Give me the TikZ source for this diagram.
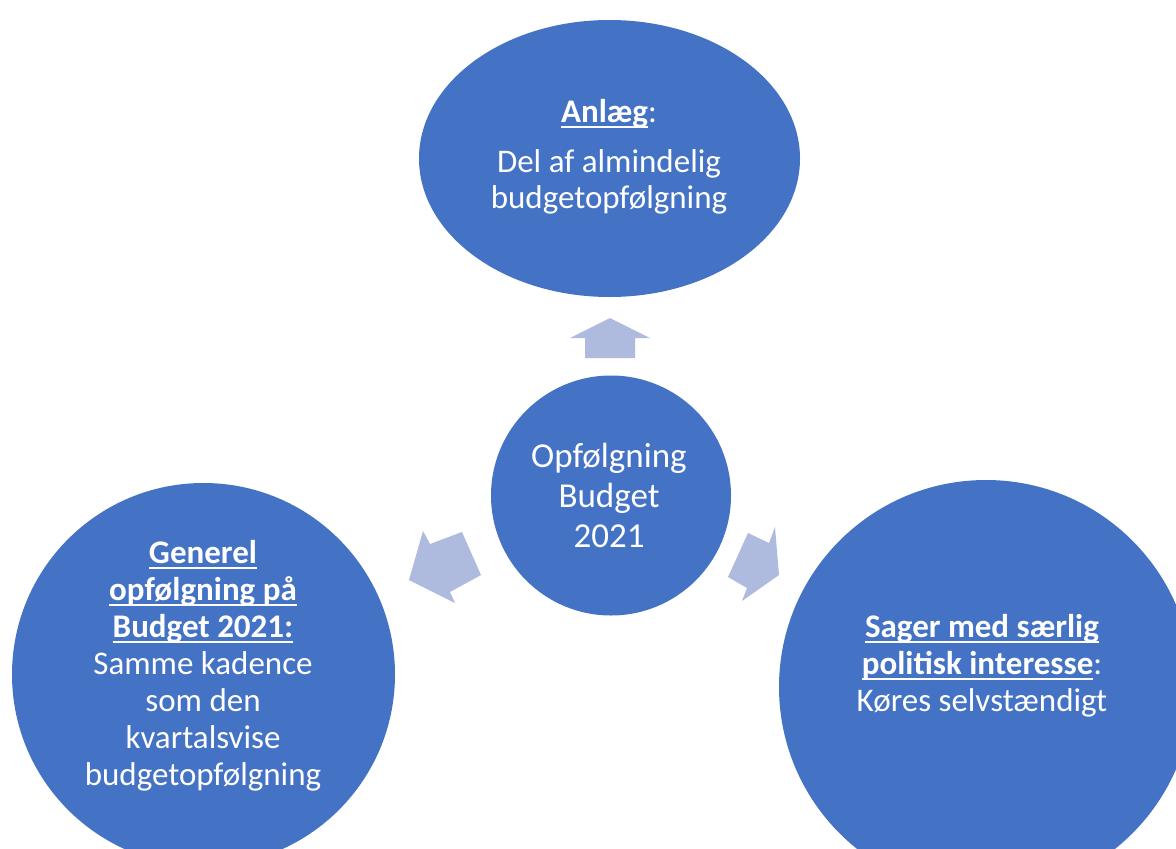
\documentclass[tikz,border=0pt]{standalone}
\usepackage{fontspec}
\setmainfont{Carlito}
\usetikzlibrary{shapes.geometric}
\definecolor{nodeblue}{HTML}{4472C4}
\definecolor{arrowblue}{HTML}{AFBADF}
\newcommand\ulin[1]{\setbox0\hbox{#1}\rlap{\rule[-5.5pt]{\wd0}{1.8pt}}\box0}
\newcommand\txtlines[2]{\vtop{\baselineskip=#1\lineskiplimit=-100pt\lineskip=0pt\halign{\hfil##\hfil\cr#2\crcr}}}
\tikzset{
  bubble/.style={fill=nodeblue, draw=none, inner sep=0pt},
  txt/.style={text=white, inner sep=0pt, anchor=base},
  blockarrow/.style={fill=arrowblue, draw=none}
}
\begin{document}
\begin{tikzpicture}[x=1pt,y=-1pt]
\useasboundingbox (0,0) rectangle (1176,849);
% shapes
\node[bubble, ellipse, minimum width=381pt, minimum height=277pt] (top) at (609.5,158.5) {};
\node[bubble, circle, minimum size=240pt] (center) at (611,495.5) {};
\node[bubble, circle, minimum size=383pt] (left) at (203.5,674.5) {};
\node[bubble, circle, minimum size=414pt] (right) at (986,687) {};
% block arrows
\fill[blockarrow] (610,318) -- (650,338) -- (635,338) -- (635,358) -- (585,358) -- (585,338) -- (570,338) -- cycle;
\fill[blockarrow] (409,580) -- (455,603) -- (450,592) -- (481,575) -- (462,532) -- (430,544) -- (423,531) -- cycle;
\fill[blockarrow] (779,575) -- (742,601) -- (747,588) -- (728,577) -- (748,533) -- (769,543) -- (775,527) -- cycle;
% texts
\node[txt, font=\fontsize{33}{36}\selectfont] (toptext) at (609,122)
  {\txtlines{36pt}{\ulin{\bfseries Anlæg}:\cr\noalign{\vskip14pt} Del af almindelig\cr budgetopfølgning}};
\node[txt, font=\fontsize{35}{40}\selectfont] (centertext) at (609,467)
  {\txtlines{40pt}{Opfølgning\cr Budget\cr 2021}};
\node[txt, font=\fontsize{33}{37}\selectfont] (lefttext) at (203,563)
  {\txtlines{37pt}{\ulin{\bfseries Generel}\cr \ulin{\bfseries opfølgning på}\cr \ulin{\bfseries Budget 2021:}\cr Samme kadence\cr som den\cr kvartalsvise\cr budgetopfølgning}};
\node[txt, font=\fontsize{33}{37}\selectfont] (righttext) at (982,637)
  {\txtlines{37pt}{\ulin{\bfseries Sager med særlig}\cr \ulin{\bfseries politisk interesse}:\cr Køres selvstændigt}};
\end{tikzpicture}
\end{document}
